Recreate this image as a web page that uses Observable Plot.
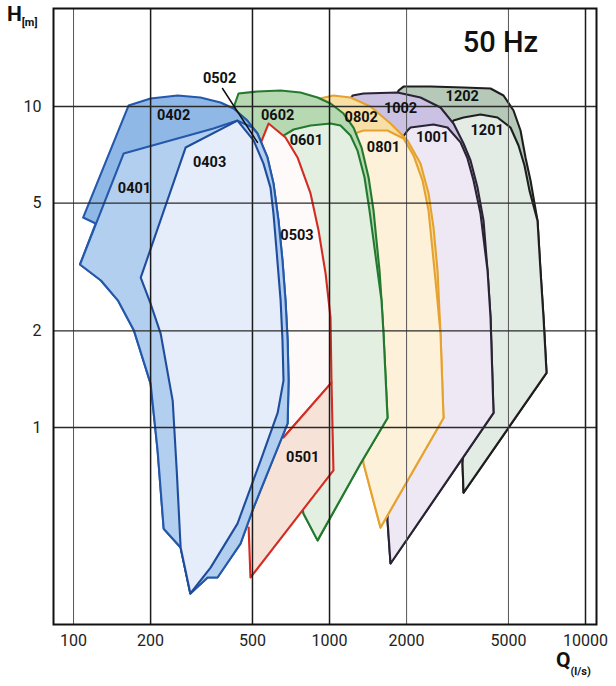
<!DOCTYPE html>
<html><head><meta charset="utf-8">
<script src="https://cdn.jsdelivr.net/npm/d3@7"></script>
<script src="https://cdn.jsdelivr.net/npm/@observablehq/plot@0.6"></script>
<style>
html,body{margin:0;padding:0;background:#fff;}
#chart{width:616px;height:686px;}
</style></head><body><div id="chart"></div>
<script>
// axis ticks and grid
const xTicks = [100, 200, 500, 1000, 2000, 5000, 10000];
const yTicks = [1, 2, 5, 10];
const gridHeavyQ = [200, 500, 1000, 10000];
const gridLightQ = [100, 2000, 5000];
const gridH = [1, 2, 5, 10];

// pump operating ranges: [Q (l/s), H (m)]
const r1202 = [[1810,10.44],[1860,11.22],[1946,11.54],[2481,11.54],[3338,11.46],[4256,11.38],[4783,10.82],[5233,9.72],[5574,8.42],[5829,6.94],[6098,5.88],[6494,4.41],[6671,3.08],[6855,2.20],[7043,1.48],[3338,0.627],[3308,0.772],[3555,1.74]];
const r1201 = [[2839,8.42],[3051,9.04],[3338,9.24],[3889,9.44],[4532,9.24],[5093,8.60],[5474,7.56],[5777,6.55],[6043,5.47],[6494,4.41],[6671,3.08],[6855,2.20],[7043,1.48],[3338,0.627],[3308,0.772],[3555,1.74]];
const r1002 = [[1155,10.07],[1230,10.82],[1358,10.98],[1843,11.06],[2267,10.67],[2714,9.93],[3051,8.85],[3338,7.67],[3555,6.79],[3786,5.59],[3996,4.41],[4143,3.08],[4256,2.20],[4372,1.11],[1731,0.377],[1685,0.513],[1731,1.21]];
const r1001 = [[1894,7.84],[2017,8.42],[2072,8.60],[2548,8.79],[2890,8.60],[3249,7.73],[3460,6.89],[3652,5.88],[3889,4.64],[4143,3.08],[4256,2.20],[4372,1.11],[1731,0.377],[1685,0.513],[1731,1.21]];
const r0802 = [[843,10.44],[1036,10.82],[1208,10.67],[1446,10.0],[1731,8.85],[2017,7.84],[2267,6.64],[2437,5.36],[2548,4.20],[2642,3.08],[2714,1.96],[2788,1.07],[1582,0.488],[1358,0.772],[1155,2.49]];
const r0801 = [[1208,7.84],[1286,8.30],[1358,8.42],[1685,8.42],[1946,7.95],[2129,7.04],[2309,5.88],[2437,4.74],[2526,3.56],[2618,2.67],[2714,1.96],[2788,1.07],[1582,0.488],[1358,0.772],[1155,2.49]];
const r0602 = [[418,9.72],[441,10.98],[523,11.14],[644,11.22],[770,11.06],[898,10.67],[1009,10.22],[1134,9.51],[1241,8.60],[1334,7.45],[1421,6.01],[1486,4.74],[1526,3.82],[1568,3.08],[1596,2.49],[1625,1.96],[1685,1.07],[1322,0.772],[898,0.445],[791,0.540],[704,0.848],[673,1.74],[514,7.29]];
const r0601 = [[661,8.12],[724,8.48],[843,8.73],[1009,8.85],[1104,8.73],[1208,8.12],[1286,7.29],[1370,6.01],[1433,4.74],[1486,3.82],[1540,3.08],[1596,2.49],[1625,1.96],[1685,1.07],[1322,0.772],[898,0.445],[791,0.540],[704,0.848],[673,1.74],[704,5.10]];
const r0503 = [[528,7.40],[578,8.85],[673,8.01],[750,6.94],[843,5.36],[906,4.11],[965,3.02],[1009,2.20],[1018,1.38],[661,0.931],[686,1.03],[692,1.40],[686,1.87],[673,2.49],[655,3.31],[632,4.41],[604,5.76],[572,6.79]];
const r0501 = [[661,0.931],[1018,1.38],[1036,0.735],[491,0.341],[483,0.488],[505,0.563],[588,0.761]];
const r0402 = [[109,4.51],[164,10.07],[200,10.59],[255,10.82],[313,10.67],[375,10.29],[422,9.86],[478,9.04],[523,8.24],[572,6.94],[604,5.76],[632,4.41],[655,3.31],[673,2.49],[686,1.87],[692,1.40],[686,1.03],[588,0.761],[505,0.563],[449,0.435],[365,0.341],[334,0.341],[286,0.304],[262,0.423],[225,0.484],[213,0.848],[200,1.37],[172,2.01],[149,2.49],[128,2.87],[106,3.22],[122,4.32]];
const r0401 = [[157,7.14],[352,8.54],[437,9.04],[500,8.60],[523,8.24],[572,6.94],[604,5.76],[632,4.41],[655,3.31],[673,2.49],[686,1.87],[692,1.40],[686,1.03],[588,0.761],[505,0.563],[449,0.435],[365,0.341],[334,0.341],[286,0.304],[262,0.423],[225,0.484],[213,0.848],[200,1.37],[172,2.01],[149,2.49],[128,2.87],[106,3.22]];
const r0403 = [[274,7.45],[437,9.04],[505,7.84],[552,6.64],[588,5.59],[604,4.64],[621,3.56],[644,2.49],[655,1.87],[661,1.40],[627,1.11],[538,0.789],[437,0.502],[343,0.366],[286,0.304],[262,0.423],[253,0.735],[244,1.21],[219,1.96],[200,2.43],[183,2.93]];

const leader0502 = [[382,11.38],[523,7.73]];

const labelNames = ["0402","0401","0403","0502","0602","0601","0503","0501","0802","0801","1002","1001","1202","1201"];
const labelQ =     [246, 173, 340, 372, 627, 812, 746, 786, 1330, 1625, 1894, 2526, 3300, 4130];
const labelH =     [9.38, 5.55, 6.70, 12.23, 9.38, 7.84, 3.96, 0.806, 9.24, 7.45, 9.86, 8.01, 10.75, 8.42];

// styles
const shapes = [
  {pts: r1202, fill: "#b6c9b9", stroke: "#1e1e1e"},
  {pts: r1201, fill: "#e3ebe5", stroke: "#1e1e1e"},
  {pts: r1002, fill: "#cbc1e2", stroke: "#2a2333"},
  {pts: r1001, fill: "#eee8f4", stroke: "#2a2333"},
  {pts: r0802, fill: "#f8dfa6", stroke: "#e6a22e"},
  {pts: r0801, fill: "#fdf1d9", stroke: "#e6a22e"},
  {pts: r0602, fill: "#b7d9b2", stroke: "#237a2f"},
  {pts: r0601, fill: "#e3f0e1", stroke: "#237a2f"},
  {pts: r0503, fill: "#fefafa", stroke: "#d42b22", open: 10},
  {pts: r0501, fill: "#f7e2d8", stroke: "#d42b22", open: 5},
  {pts: r0402, fill: "#8fb8e6", stroke: "#2458aa"},
  {pts: r0401, fill: "#b3cff0", stroke: "#2458aa"},
  {pts: r0403, fill: "#e4edf9", stroke: "#1f4c9c"}
];

function shapeMarks(s) {
  const acc = {x: d => d[0], y: d => d[1]};
  const m = [Plot.line(s.pts, {...acc, curve: "linear-closed", fill: s.fill,
    stroke: s.open ? "none" : s.stroke, strokeWidth: 2.1, strokeLinejoin: "round"})];
  if (s.open) m.push(Plot.line(s.pts.slice(0, s.open), {...acc, stroke: s.stroke, strokeWidth: 2.1, strokeLinejoin: "round"}));
  return m;
}

const labelData = labelNames.map((t, i) => ({t, q: labelQ[i], h: labelH[i]}));

const chart = Plot.plot({
  width: 616, height: 686,
  marginLeft: 53, marginRight: 20, marginTop: 8, marginBottom: 62,
  style: {fontFamily: "Roboto, 'DejaVu Sans', sans-serif", fontSize: "16px", color: "#222", background: "#fff"},
  x: {type: "log", domain: [83.5, 11040], ticks: xTicks, tickFormat: d => `${d}`, tickSize: 0, tickPadding: 10, label: null},
  y: {type: "log", domain: [0.2434, 20.2], ticks: yTicks, tickFormat: d => `${d}`, tickSize: 0, tickPadding: 12, label: null},
  marks: [
    ...shapes.flatMap(shapeMarks),
    Plot.ruleX(gridLightQ, {stroke: "#555", strokeWidth: 1}),
    Plot.ruleX(gridHeavyQ, {stroke: "#1a1a1a", strokeWidth: 1.5}),
    Plot.ruleY(gridH, {stroke: "#2a2a2a", strokeWidth: 1.3}),
    Plot.frame({stroke: "#111", strokeWidth: 2}),
    Plot.line(leader0502, {x: d => d[0], y: d => d[1], stroke: "#111", strokeWidth: 1.5}),
    Plot.text(labelData, {x: "q", y: "h", text: "t", fontSize: 14.5, fontWeight: 700, fill: "#111", textAnchor: "middle", lineAnchor: "middle"}),
    Plot.text(["50 Hz"], {frameAnchor: "top-right", dx: -96, dy: 34, text: d => d, fontSize: 29, fontWeight: 500, fill: "#111", textAnchor: "middle", lineAnchor: "middle"})
  ]
});

const svg = d3.select(chart);
const hLab = svg.append("text").attr("x", 7).attr("y", 21).attr("fill", "#111").attr("text-anchor", "start")
  .style("font-family", "Roboto, sans-serif").style("font-weight", 700);
hLab.append("tspan").style("font-size", "21px").text("H");
hLab.append("tspan").style("font-size", "11px").attr("dy", 5).text("[m]");
const qLab = svg.append("text").attr("x", 556).attr("y", 667).attr("fill", "#111").attr("text-anchor", "start")
  .style("font-family", "Roboto, sans-serif").style("font-weight", 700);
qLab.append("tspan").style("font-size", "21px").text("Q");
qLab.append("tspan").style("font-size", "11px").attr("dy", 8).text("(l/s)");

document.getElementById("chart").appendChild(chart);
</script>
</body></html>
